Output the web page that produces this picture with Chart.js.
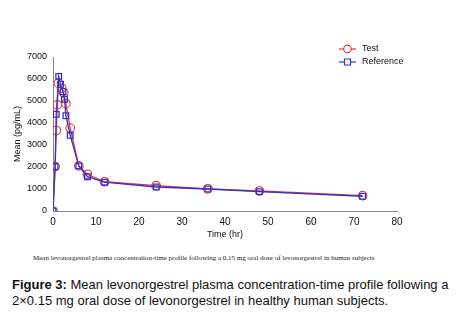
<!DOCTYPE html>
<html>
<head>
<meta charset="utf-8">
<script src="https://cdn.jsdelivr.net/npm/chart.js@4.4.1/dist/chart.umd.min.js"></script>
<style>
  body { margin: 0; background: #fff; }
  #wrap { position: relative; width: 460px; height: 314px; overflow: hidden; }
  #chartBox { position: absolute; left: 0; top: 0; width: 460px; height: 250px; }
  #note {
    position: absolute; left: 33px; top: 254px; white-space: nowrap;
    font-family: "Liberation Serif", "Times New Roman", serif; font-size: 7px; color: #222;
  }
  #caption {
    position: absolute; left: 12px; top: 277px; width: 448px;
    font-family: "Liberation Sans", Arial, sans-serif; font-size: 13px; line-height: 16px; color: #111;
  }
</style>
</head>
<body>
<div id="wrap">
  <div id="chartBox"><canvas id="myChart"></canvas></div>
  <div id="note">Mean levonorgestrel plasma concentration-time profile following a 0.15 mg oral dose of levonorgestrel in human subjects</div>
  <div id="caption"><b>Figure 3:</b> Mean levonorgestrel plasma concentration-time profile following a 2×0.15 mg oral dose of levonorgestrel in healthy human subjects.</div>
</div>
<script>
// values
const TEST_TIME = [0, 0.5, 0.75, 1, 1.25, 2, 2.5, 3, 4, 6, 8, 12, 24, 36, 48, 72];
const TEST_CONC = [0, 2020, 3660, 4830, 5810, 5590, 5370, 4880, 3770, 2050, 1670, 1330, 1150, 1010, 910, 700];
const REF_TIME = [0, 0.5, 0.75, 1.33, 1.75, 2.33, 2.67, 3, 4, 6, 8, 12, 24, 36, 48, 72];
const REF_CONC = [0, 2020, 4400, 6120, 5760, 5420, 5080, 4330, 3440, 2050, 1560, 1310, 1090, 1000, 880, 670];
const SERIES_NAMES = ['Test', 'Reference'];
const X_TICKS = [0, 10, 20, 30, 40, 50, 60, 70, 80];
const Y_TICKS = [0, 1000, 2000, 3000, 4000, 5000, 6000, 7000];

const RED = '#e0343c';
const BLUE = '#3434c8';
const AXIS = '#888888';

function toPoints(xs, ys) {
  return xs.map((x, i) => ({ x: x, y: ys[i] }));
}

// legend drawn by hand so it shows line + marker like the original
const LINE_LEGEND = {
  id: 'lineLegend',
  afterDraw(chart) {
    const { ctx } = chart;
    const items = [
      { label: SERIES_NAMES[0], color: RED, style: 'circle', y: 49 },
      { label: SERIES_NAMES[1], color: BLUE, style: 'rect', y: 62 }
    ];
    ctx.save();
    items.forEach(item => {
      ctx.strokeStyle = item.color;
      ctx.lineWidth = 1.2;
      ctx.beginPath();
      ctx.moveTo(339, item.y);
      ctx.lineTo(356, item.y);
      ctx.stroke();
      ctx.beginPath();
      if (item.style === 'circle') {
        ctx.arc(347.5, item.y, 3.8, 0, Math.PI * 2);
      } else {
        ctx.rect(344.5, item.y - 3, 6, 6);
      }
      ctx.fillStyle = '#fff';
      ctx.fill();
      ctx.stroke();
      ctx.fillStyle = '#111';
      ctx.font = '9px "Liberation Sans", Arial, sans-serif';
      ctx.textBaseline = 'middle';
      ctx.fillText(item.label, 362, item.y);
    });
    ctx.restore();
  }
};

const CONFIG = {
  type: 'line',
  data: {
    datasets: [
      {
        label: SERIES_NAMES[1],
        data: toPoints(REF_TIME, REF_CONC),
        borderColor: BLUE,
        borderWidth: 1.3,
        pointStyle: 'rect',
        pointRadius: 4,
        pointBorderColor: BLUE,
        pointBackgroundColor: 'rgba(255,255,255,0)',
        pointBorderWidth: 1.3,
        tension: 0
      },
      {
        label: SERIES_NAMES[0],
        data: toPoints(TEST_TIME, TEST_CONC),
        borderColor: RED,
        borderWidth: 1.3,
        pointStyle: 'circle',
        pointRadius: 4.3,
        pointBorderColor: RED,
        pointBackgroundColor: 'rgba(255,255,255,0)',
        pointBorderWidth: 1.1,
        tension: 0
      }
    ]
  },
  options: {
    responsive: true,
    maintainAspectRatio: false,
    animation: false,
    layout: { padding: { top: 57, right: 63, left: 0, bottom: 10 } },
    plugins: {
      legend: { display: false },
      tooltip: { enabled: false }
    },
    scales: {
      x: {
        type: 'linear',
        min: 0,
        max: 80,
        afterBuildTicks(scale) { scale.ticks = X_TICKS.map(v => ({ value: v })); },
        afterFit(scale) { scale.height = 29; },
        grid: { display: false, drawTicks: true, tickLength: 4, color: AXIS },
        border: { color: AXIS, width: 1 },
        ticks: { color: '#111', font: { family: '"Liberation Sans", Arial, sans-serif', size: 10 }, padding: 1, maxRotation: 0 },
        title: { display: true, text: 'Time (hr)', color: '#111', font: { family: '"Liberation Sans", Arial, sans-serif', size: 9 }, padding: { top: 3, bottom: 0 } }
      },
      y: {
        type: 'linear',
        min: 0,
        max: 7000,
        afterBuildTicks(scale) { scale.ticks = Y_TICKS.map(v => ({ value: v })); },
        afterFit(scale) { scale.width = 53; },
        grid: { display: false, drawTicks: true, tickLength: 4, color: AXIS },
        border: { color: AXIS, width: 1 },
        ticks: { color: '#111', font: { family: '"Liberation Sans", Arial, sans-serif', size: 9 }, padding: 2, callback: v => String(v) },
        title: { display: true, text: 'Mean (pg/mL)', color: '#111', font: { family: '"Liberation Sans", Arial, sans-serif', size: 9 }, padding: { top: 12, bottom: 2 } }
      }
    }
  },
  plugins: [LINE_LEGEND]
};

const MY_CHART = new Chart(document.getElementById('myChart'), CONFIG);
</script>
</body>
</html>
